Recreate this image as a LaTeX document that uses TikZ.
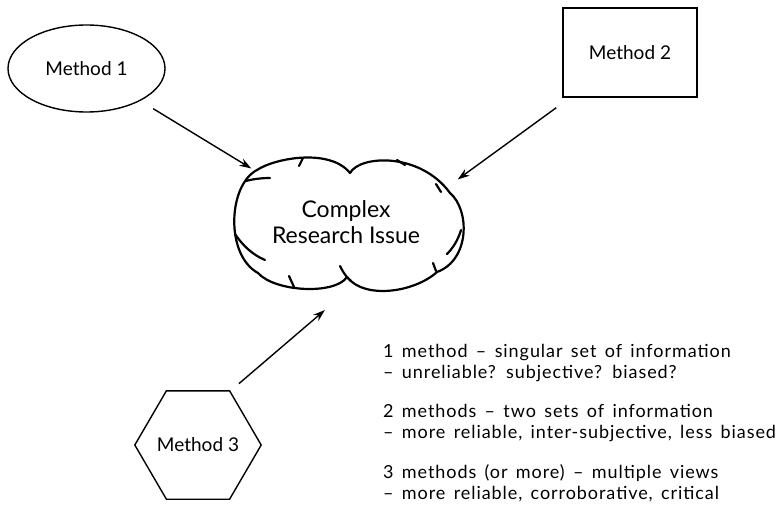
\documentclass[tikz,border=0pt]{standalone}
\usepackage{fontspec}
\setmainfont{Lato}
\newfontfamily\notefont[LetterSpace=5.2,WordSpace=1.5]{Lato}
\usetikzlibrary{arrows.meta,shapes.geometric,calc}

\tikzset{
  outline/.style={draw, line width=1.4pt},
  label/.style={font=\fontsize{19}{22}\selectfont, inner sep=0pt},
  connector/.style={line width=1.4pt, -{Stealth[length=12pt,width=8pt]}},
  puff/.style={line width=2.2pt, line cap=round, line join=round},
  note/.style={anchor=base west, inner sep=0pt, font=\notefont\fontsize{18}{21}\selectfont},
}

\begin{document}
\begin{tikzpicture}[x=1pt,y=-1pt]
\useasboundingbox (0,0) rectangle (778,508);

% methods
\node[outline, ellipse, label, minimum width=157pt, minimum height=87pt] (m1) at (86.5,68.5) {Method 1};
\node[outline, rectangle, label, minimum width=134pt, minimum height=89pt] (m2) at (630,52.5) {Method 2};
\node[label, minimum width=126pt, minimum height=108pt] (m3) at (198,445) {Method 3};
\draw[line width=1.4pt, line join=miter]
  (m3.west) -- ($(m3.north west)!.25!(m3.north east)$) -- ($(m3.north west)!.75!(m3.north east)$)
  -- (m3.east) -- ($(m3.south west)!.75!(m3.south east)$) -- ($(m3.south west)!.25!(m3.south east)$) -- cycle;

% the issue in the middle
\node[ellipse, minimum width=234pt, minimum height=140pt, inner sep=0pt] (issue) at (348.5,225) {};
\node[align=center, font=\fontsize{23}{26}\selectfont, inner sep=0pt] (issuetext) at (346,222) {Complex\\Research Issue};

% hand-drawn cloud outline
\draw[puff] (257,170) .. controls (275,158) and (330,148) .. (350,173)
  .. controls (360,155) and (420,152) .. (450,193)
  .. controls (470,210) and (470,260) .. (437,272)
  .. controls (415,292) and (365,300) .. (347,277)
  .. controls (335,295) and (275,292) .. (258,273)
  .. controls (225,255) and (228,185) .. (257,170);
% overlapping stroke ends
\draw[puff] (246,181) .. controls (253,179) and (262,178) .. (270,178);
\draw[puff] (235,234) .. controls (243,246) and (253,255) .. (265,260);
\draw[puff] (289,276) -- (294,287);
\draw[puff] (340,266) .. controls (343,272) and (346,277) .. (351,281);
\draw[puff] (299,166) -- (303,158);
\draw[puff] (461,230) .. controls (458,240) and (453,248) .. (447,254);
\draw[puff] (397,160) -- (405,165);
\draw[puff] (436,184) -- (441,192);
\draw[puff] (433,263) -- (436,271);

% connectors
\draw[connector, shorten <=15pt, shorten >=15pt] (m1.-31.3) -- (issue.150.4);
\draw[connector, shorten <=17pt, shorten >=13pt] (m2.217) -- (issue.21.4);
\draw[connector, shorten <=11pt, shorten >=23pt] (m3.59.5) -- (issue.265.3);

% notes
\node[note] (n1) at (383,357) {1 method – singular set of information};
\node[note] (n2) at (383,378) {– unreliable? subjective? biased?};
\node[note] (n3) at (383,417) {2 methods – two sets of information};
\node[note] (n4) at (383,438) {– more reliable, inter-subjective, less biased};
\node[note] (n5) at (383,478) {3 methods (or more) – multiple views};
\node[note] (n6) at (383,499) {– more reliable, corroborative, critical};
\end{tikzpicture}
\end{document}
